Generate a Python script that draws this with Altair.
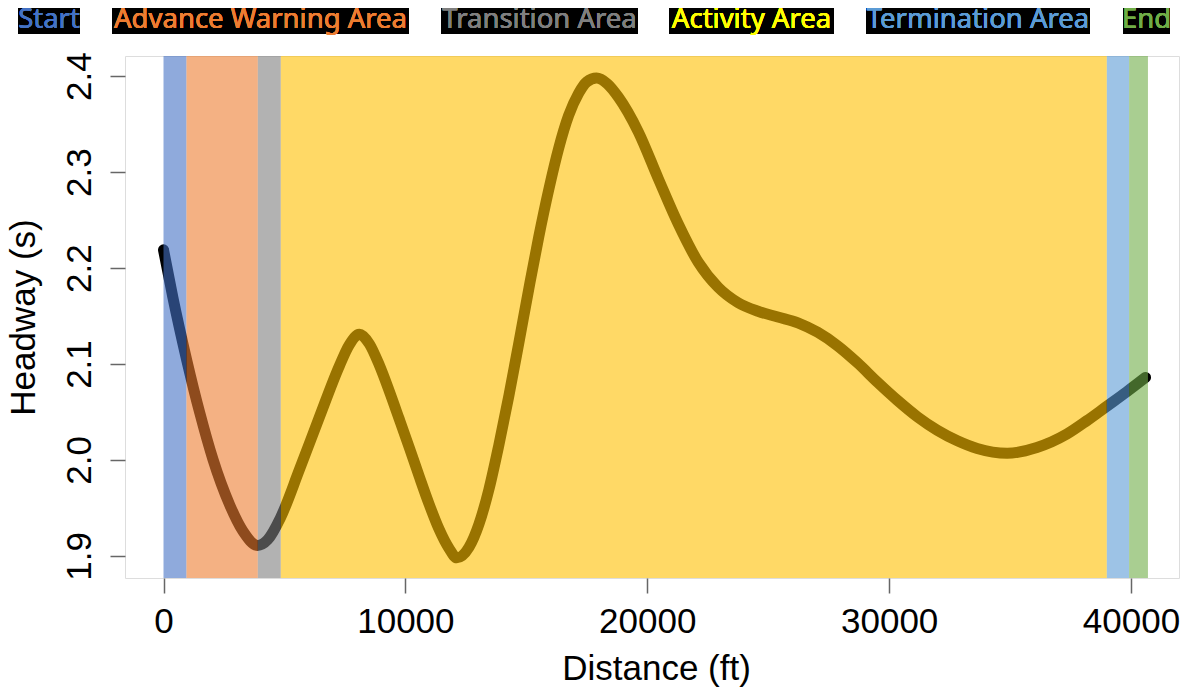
import altair as alt
import pandas as pd

# ---- data ----
distance_ft = [0, 390, 970, 1500, 2040, 2740, 3280, 3890, 4310, 4840,
               5620, 6450, 7270, 7680, 8100, 8510, 8920, 9330, 9740, 10160,
               10570, 10980, 11390, 11800, 12130, 12630, 13040, 13450, 13860, 14280,
               14690, 15100, 15510, 15930, 16340, 16750, 17160, 17500, 17900, 18350,
               18810, 19630, 20460, 21280, 22110, 22930, 23750, 24580, 25400, 26230,
               27050, 27870, 28700, 29520, 30350, 31170, 31990, 32820, 33640, 34880,
               36110, 37350, 38180, 39000, 39820, 40600]
headway_s = [2.219, 2.169, 2.103, 2.049, 2.001, 1.953, 1.926, 1.911, 1.917, 1.940,
             1.990, 2.045, 2.098, 2.120, 2.131, 2.121, 2.099, 2.072, 2.043, 2.013,
             1.983, 1.954, 1.928, 1.908, 1.898, 1.909, 1.933, 1.969, 2.015, 2.067,
             2.122, 2.178, 2.232, 2.282, 2.325, 2.359, 2.382, 2.394, 2.398, 2.392,
             2.378, 2.342, 2.293, 2.246, 2.206, 2.180, 2.164, 2.155, 2.149, 2.143,
             2.133, 2.119, 2.101, 2.081, 2.062, 2.045, 2.031, 2.020, 2.012, 2.007,
             2.013, 2.027, 2.041, 2.056, 2.071, 2.086]

areas = ["Start", "Advance Warning Area", "Transition Area", "Activity Area",
         "Termination Area", "End"]
area_start = [0, 950, 3900, 4850, 39000, 39920]
area_end = [950, 3900, 4850, 39000, 39920, 40700]
band_colors = ["#4472C4", "#ED7D31", "#7F7F7F", "#FFC000", "#5B9BD5", "#70AD47"]
label_colors = ["#4472C4", "#ED7D31", "#7F7F7F", "#FFFF00", "#5B9BD5", "#70AD47"]

x_ticks = [0, 10000, 20000, 30000, 40000]
y_ticks = [1.9, 2.0, 2.1, 2.2, 2.3, 2.4]

# ---- layout (pixels, relative to the plot area) ----
W, H = 1054, 522
label_box_x0 = [-107, -13, 316, 544, 741, 998]
label_box_x1 = [-45, 284, 513, 709, 965, 1045]
BOX_TOP, BOX_BOTTOM, TEXT_BASE = -52, -22, -28.5

curve = pd.DataFrame({"distance": distance_ft, "headway": headway_s})
bands = pd.DataFrame({"area": areas, "start": area_start, "end": area_end})

FONT = "Liberation Sans"
AX = "#666666"

x_enc = alt.X(
    "distance:Q",
    scale=alt.Scale(domain=[-1592, 41984], nice=False, zero=False),
    axis=alt.Axis(values=x_ticks, format="d", grid=False, domain=False,
                  tickSize=15, tickWidth=1.5, tickColor=AX,
                  labelFont=FONT, labelFontSize=35, labelColor="black",
                  labelBaseline="alphabetic", labelPadding=39, labelAngle=0,
                  labelOverlap=False, labelFlush=False,
                  title="Distance (ft)", titleFont=FONT, titleFontSize=35,
                  titleFontWeight="normal", titleColor="black",
                  titleBaseline="alphabetic", titleY=101, titleX=531),
)
y_enc = alt.Y(
    "headway:Q",
    scale=alt.Scale(domain=[1.877, 2.421], nice=False, zero=False),
    axis=alt.Axis(values=y_ticks, format=".1f", grid=False, domain=False,
                  tickSize=15, tickWidth=1.5, tickColor=AX,
                  labelFont=FONT, labelFontSize=35, labelColor="black",
                  labelAngle=270, labelAlign="center", labelBaseline="alphabetic",
                  labelPadding=20, labelOverlap=False, labelFlush=False,
                  title="Headway (s)", titleFont=FONT, titleFontSize=35,
                  titleFontWeight="normal", titleColor="black",
                  titleAngle=270, titleBaseline="alphabetic", titleX=-91),
)

line = alt.Chart(curve).mark_line(
    color="black", strokeWidth=11, strokeCap="round", strokeJoin="round",
    interpolate="monotone"
).encode(x=x_enc, y=y_enc)

band_layer = alt.Chart(bands).mark_rect(opacity=0.6).encode(
    x="start:Q", x2="end:Q",
    color=alt.Color("area:N", scale=alt.Scale(domain=areas, range=band_colors),
                    legend=None),
)

layers = [line, band_layer]
for name, col, x0, x1 in zip(areas, label_colors, label_box_x0, label_box_x1):
    layers.append(
        alt.Chart(bands).mark_rect(color="black").encode(
            x=alt.value(x0), x2=alt.value(x1),
            y=alt.value(BOX_TOP), y2=alt.value(BOX_BOTTOM))
    )
    layers.append(
        alt.Chart(bands).mark_text(
            text=name, font="Noto Sans", fontSize=27.5, color=col,
            align="center", baseline="alphabetic"
        ).encode(x=alt.value((x0 + x1) / 2), y=alt.value(TEXT_BASE))
    )

chart = alt.layer(*layers).properties(
    width=W, height=H,
    autosize=alt.AutoSizeParams(type="none"),
    padding={"left": 117, "top": 48, "right": 1, "bottom": 110},
).configure_view(stroke=AX, strokeWidth=1.5).configure(background="white")

chart.save("out.html", embed_options={"renderer": "svg", "actions": False})
